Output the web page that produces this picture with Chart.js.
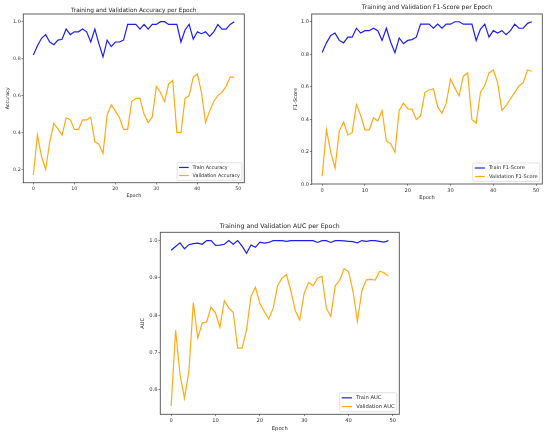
<!DOCTYPE html>
<html><head><meta charset="utf-8">
<script src="https://cdn.jsdelivr.net/npm/chart.js@4.4.1/dist/chart.umd.min.js"></script>
<style>
html,body{margin:0;padding:0;background:#fff;width:550px;height:437px;overflow:hidden;}
.box{position:absolute;}
.box canvas{display:block;}
</style></head><body>
<div class="box" id="b1"><canvas id="c1"></canvas></div>
<div class="box" id="b2"><canvas id="c2"></canvas></div>
<div class="box" id="b3"><canvas id="c3"></canvas></div>
<script>
const epochs = [0,1,2,3,4,5,6,7,8,9,10,11,12,13,14,15,16,17,18,19,20,21,22,23,24,25,26,27,28,29,30,31,32,33,34,35,36,37,38,39,40,41,42,43,44,45,46,47,48,49];
const xTicks = [0,10,20,30,40,50];

const trainAcc = [0.82,0.87,0.91,0.93,0.89,0.875,0.90,0.905,0.96,0.93,0.945,0.945,0.96,0.945,0.89,0.96,0.88,0.81,0.90,0.865,0.89,0.89,0.90,0.985,0.985,0.985,0.96,0.985,0.96,0.985,0.985,1.0,1.0,0.985,0.985,0.985,0.89,0.955,0.985,0.905,0.945,0.935,0.945,0.92,0.945,0.985,0.96,0.96,0.985,1.0];
const valAcc = [0.17,0.387,0.27,0.20,0.35,0.45,0.42,0.385,0.48,0.47,0.417,0.417,0.468,0.468,0.483,0.35,0.337,0.287,0.495,0.55,0.517,0.48,0.417,0.417,0.568,0.585,0.585,0.50,0.454,0.483,0.65,0.617,0.568,0.664,0.682,0.40,0.40,0.585,0.60,0.70,0.717,0.617,0.454,0.517,0.568,0.60,0.617,0.65,0.70,0.70];

const trainF1 = [0.81,0.87,0.915,0.93,0.885,0.87,0.905,0.905,0.96,0.93,0.945,0.945,0.96,0.945,0.885,0.96,0.875,0.81,0.90,0.865,0.885,0.89,0.905,0.985,0.985,0.985,0.96,0.985,0.96,0.985,0.985,1.0,1.0,0.985,0.985,0.985,0.885,0.955,0.985,0.905,0.945,0.93,0.945,0.92,0.945,0.985,0.96,0.96,0.99,1.0];
const valF1 = [0.049,0.335,0.198,0.10,0.327,0.382,0.303,0.317,0.49,0.423,0.335,0.335,0.409,0.389,0.454,0.266,0.25,0.198,0.454,0.499,0.464,0.462,0.399,0.421,0.564,0.58,0.587,0.476,0.437,0.499,0.646,0.593,0.544,0.665,0.685,0.397,0.376,0.566,0.607,0.685,0.703,0.626,0.454,0.483,0.526,0.564,0.605,0.626,0.703,0.695];

const trainAuc = [0.974,0.984,0.994,0.978,0.989,0.992,0.993,0.99,1.0,1.0,0.987,0.988,0.99,1.0,0.99,1.0,0.985,0.966,0.988,0.982,0.996,0.993,0.995,1.0,1.0,1.0,0.998,1.0,1.0,1.0,1.0,1.0,1.0,0.995,1.0,1.0,0.995,1.0,1.0,0.999,0.998,0.997,0.994,1.0,0.998,1.0,1.0,0.998,0.996,1.0];
const valAuc = [0.557,0.760,0.641,0.578,0.65,0.834,0.739,0.779,0.782,0.822,0.806,0.768,0.839,0.819,0.808,0.712,0.712,0.761,0.85,0.875,0.832,0.81,0.79,0.819,0.879,0.90,0.909,0.865,0.812,0.787,0.859,0.888,0.879,0.899,0.904,0.819,0.797,0.879,0.894,0.925,0.917,0.865,0.784,0.865,0.895,0.896,0.894,0.918,0.914,0.905];

const accTicks = [0.2,0.4,0.6,0.8,1.0];
const f1Ticks = [0.0,0.2,0.4,0.6,0.8,1.0];
const aucTicks = [0.6,0.7,0.8,0.9,1.0];

const FONT = "'DejaVu Sans', sans-serif";
const TRAIN_COLOR = 'rgb(30,30,240)';
const VAL_COLOR = 'rgb(255,170,20)';

const framePlugin = {
  id: 'frame',
  afterDatasetsDraw(chart) {
    const a = chart.chartArea, ctx = chart.ctx;
    ctx.save();
    ctx.strokeStyle = '#505050';
    ctx.lineWidth = 0.9;
    ctx.strokeRect(a.left, a.top, a.right - a.left, a.bottom - a.top);
    ctx.restore();
  }
};

const mplLegend = {
  id: 'mplLegend',
  afterDraw(chart, args, opts) {
    const fs = opts.fontSize, ctx = chart.ctx, a = chart.chartArea;
    const ds = chart.data.datasets;
    ctx.save();
    ctx.font = fs + 'px ' + FONT;
    const tw = Math.max(...ds.map(d => ctx.measureText(d.label).width));
    const rowH = fs * 1.17, sp = fs * 0.5, bp = fs * 0.4, hl = fs * 2, hp = fs * 0.8, pad = fs * 0.5;
    const w = bp * 2 + hl + hp + tw;
    const h = bp * 2 + rowH * ds.length + sp * (ds.length - 1);
    const x = a.right - pad - w, y = a.bottom - pad - h;
    ctx.beginPath();
    ctx.roundRect(x, y, w, h, fs * 0.25);
    ctx.fillStyle = 'rgba(255,255,255,0.85)';
    ctx.fill();
    ctx.strokeStyle = '#d0d0d0';
    ctx.lineWidth = 0.6;
    ctx.stroke();
    ds.forEach((d, i) => {
      const cy = y + bp + i * (rowH + sp) + rowH / 2;
      ctx.beginPath();
      ctx.moveTo(x + bp, cy);
      ctx.lineTo(x + bp + hl, cy);
      ctx.strokeStyle = d.borderColor;
      ctx.lineWidth = d.borderWidth;
      ctx.stroke();
      ctx.fillStyle = '#222';
      ctx.textBaseline = 'middle';
      ctx.textAlign = 'left';
      ctx.fillText(d.label, x + bp + hl + hp, cy);
    });
    ctx.restore();
  }
};

function makeChart(n, g, tr, va, names, yLabel, title, yTicks) {
  const fsK = 4.83 * g.s, fsT = 5.8 * g.s, fsL = 4.83 * g.s;
  const tl = 1.7 * g.s;
  const left = Math.floor(g.ylabX - fsL * 0.6 - 2);
  const top = Math.floor(g.titleY - fsT * 0.6 - 2);
  const right = Math.ceil(g.R + 3);
  const bottom = Math.ceil(g.xlabY + fsL * 0.6 + 2);
  const box = document.getElementById('b' + n);
  box.style.left = left + 'px';
  box.style.top = top + 'px';
  box.style.width = (right - left) + 'px';
  box.style.height = (bottom - top) + 'px';
  const all = tr.concat(va);
  const lo = Math.min(...all), hi = Math.max(...all), m = (hi - lo) * 0.05;
  const tickFont = {family: FONT, size: fsK};
  const grid = {display: true, drawOnChartArea: false, drawTicks: true, tickLength: tl, color: '#555', lineWidth: 0.7};
  return new Chart(document.getElementById('c' + n), {
    type: 'line',
    data: {
      datasets: [
        {label: names[0], data: epochs.map((e, i) => ({x: e, y: tr[i]})), borderColor: TRAIN_COLOR, borderWidth: 1.2, pointRadius: 0, tension: 0, fill: false},
        {label: names[1], data: epochs.map((e, i) => ({x: e, y: va[i]})), borderColor: VAL_COLOR, borderWidth: 1.2, pointRadius: 0, tension: 0, fill: false}
      ]
    },
    options: {
      responsive: true, maintainAspectRatio: false, animation: false,
      events: [],
      layout: {padding: {left: 0, top: 0, right: right - g.R, bottom: 0}},
      plugins: {
        legend: {display: false},
        tooltip: {enabled: false},
        title: {
          display: true, text: title, fullSize: false, color: '#222',
          font: {family: FONT, size: fsT, weight: 'normal', lineHeight: 1.2},
          padding: {top: g.titleY - fsT * 0.6 - top, bottom: g.T - g.titleY - fsT * 0.6}
        },
        mplLegend: {fontSize: fsK}
      },
      scales: {
        x: {
          type: 'linear', min: -2.45, max: 51.45,
          afterFit: s => { s.height = bottom - g.B; },
          afterBuildTicks: s => { s.ticks = xTicks.map(v => ({value: v})); },
          ticks: {autoSkip: false, maxRotation: 0, padding: 1.7 * g.s, font: tickFont, color: '#333', callback: v => String(v)},
          grid: grid, border: {display: false},
          title: {display: true, text: 'Epoch', color: '#222', font: {family: FONT, size: fsL, lineHeight: 1.2}, padding: {top: 0, bottom: bottom - g.xlabY - fsL * 0.6}}
        },
        y: {
          type: 'linear', min: lo - m, max: hi + m,
          afterFit: s => { s.width = g.L - left; },
          afterBuildTicks: s => { s.ticks = yTicks.map(v => ({value: v})); },
          ticks: {autoSkip: false, padding: 0.9 * g.s, font: tickFont, color: '#333', callback: v => Number(v).toFixed(1)},
          grid: grid, border: {display: false},
          title: {display: true, text: yLabel, color: '#222', font: {family: FONT, size: fsL, lineHeight: 1.2}, padding: {top: g.ylabX - fsL * 0.6 - left, bottom: 0}}
        }
      }
    },
    plugins: [framePlugin, mplLegend]
  });
}

makeChart(1, {L: 23.3, R: 244.3, T: 14, B: 182.7, titleY: 10, ylabX: 7.3, xlabY: 196, s: 1},
  trainAcc, valAcc, ['Train Accuracy', 'Validation Accuracy'], 'Accuracy', 'Training and Validation Accuracy per Epoch', accTicks);
makeChart(2, {L: 311.7, R: 542.3, T: 14, B: 184, titleY: 7.8, ylabX: 295.7, xlabY: 197.3, s: 1.05},
  trainF1, valF1, ['Train F1-Score', 'Validation F1-Score'], 'F1-Score', 'Training and Validation F1-Score per Epoch', f1Ticks);
makeChart(3, {L: 160.3, R: 399.3, T: 232.3, B: 414.3, titleY: 226, ylabX: 142.7, xlabY: 428.7, s: 1.08},
  trainAuc, valAuc, ['Train AUC', 'Validation AUC'], 'AUC', 'Training and Validation AUC per Epoch', aucTicks);
</script>
</body></html>
